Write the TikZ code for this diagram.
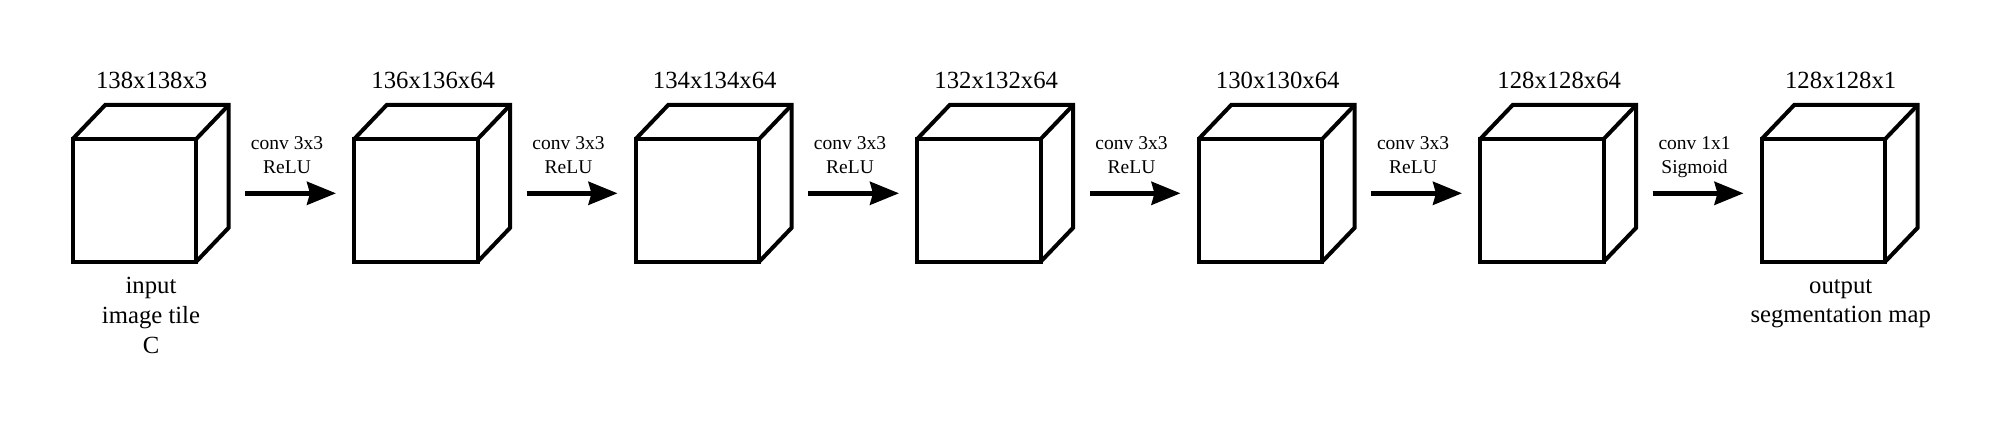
\documentclass[tikz,border=0pt]{standalone}
\usepackage{fontspec}
\setmainfont{Liberation Serif}
\usetikzlibrary{arrows.meta}
\begin{document}
\begin{tikzpicture}[x=1pt,y=1pt,
  face/.style={draw, line width=4pt, fill=white, minimum width=123.5pt, minimum height=122.7pt, inner sep=0pt, outer sep=0pt, anchor=south west},
  edge/.style={line width=4pt, line join=miter},
  conn/.style={line width=4.5pt, -{Stealth[length=29pt,width=23pt,inset=3pt]}},
  big/.style={font=\fontsize{24.7}{30}\selectfont, inner sep=0pt, align=center},
  small/.style={font=\fontsize{19.5}{23.3}\selectfont, inner sep=0pt, align=center}]
\useasboundingbox (0,0) rectangle (2002,426);
\foreach \i/\t in {0/138x138x3,1/136x136x64,2/134x134x64,3/132x132x64,4/130x130x64,5/128x128x64,6/128x128x1} {
  \node[face] (c\i) at ({72.7+281.5*\i},164.3) {};
  \draw[edge] (c\i.north west) -- ++(32.5,34) coordinate (b\i) -- ++(123.5,0) -- ++(0,-122.7) -- (c\i.south east);
  \draw[edge] (c\i.north east) -- ++(32.5,34);
  \node[big, anchor=base] (t\i) at ({72.7+281.5*\i+79},337) {\t};
}
\foreach \i/\la/\lb in {0/conv 3x3/ReLU,1/conv 3x3/ReLU,2/conv 3x3/ReLU,3/conv 3x3/ReLU,4/conv 3x3/ReLU,5/conv 1x1/Sigmoid} {
  \coordinate (s\i) at ({245+281.5*\i},232.7);
  \coordinate (e\i) at ({336+281.5*\i},232.7);
  \draw[conn] (s\i) -- (e\i);
  \node[small, anchor=base] (l\i) at ({287+281.5*\i},252.7) {\la\\\lb};
}
\node[big, anchor=base] (inlbl) at (151,72.7) {input\\image tile\\C};
\node[big, anchor=base] (outlbl) at ({72.7+281.5*6+79},103) {output\\segmentation map};
\end{tikzpicture}
\end{document}
